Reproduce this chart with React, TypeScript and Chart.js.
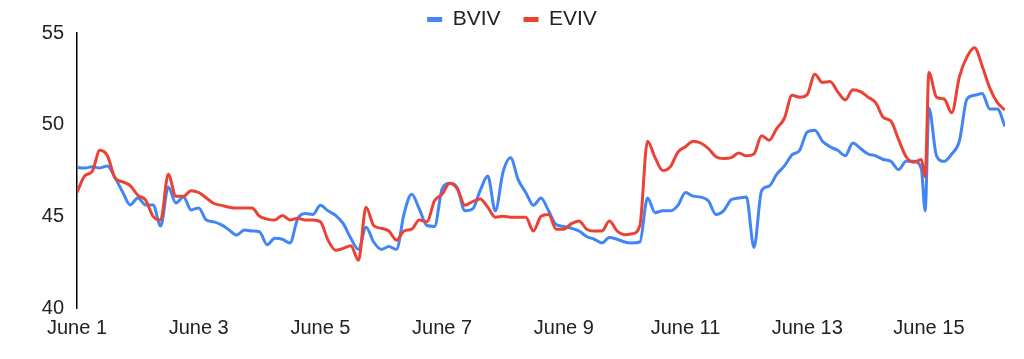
import { useEffect, useRef } from "react";
import { Chart, registerables } from "chart.js";

Chart.register(...registerables);

// hours since June 1, 00:00
const hours = [
  0, 3, 6, 9, 12, 15, 18, 21, 24, 27, 30, 33, 36, 39, 42, 45, 48, 51, 54, 57,
  60, 63, 66, 69, 72, 75, 78, 81, 84, 87, 90, 93, 96, 99, 102, 105, 108, 111, 114, 117,
  120, 123, 126, 129, 132, 135, 138, 141, 144, 147, 150, 153, 156, 159, 162, 165, 168, 171, 174, 177,
  180, 183, 186, 189, 192, 195, 198, 201, 204, 207, 210, 213, 216, 219, 222, 225, 228, 231, 234, 237,
  240, 243, 246, 249, 252, 255, 258, 261, 264, 267, 270, 273, 276, 279, 282, 285, 288, 291, 294, 297,
  300, 303, 306, 309, 312, 315, 318, 321, 324, 327, 330, 333, 334.5, 336, 339, 342, 345, 348, 351, 354,
  357, 360, 363, 366,
];

const bviv = [
  47.66, 47.64, 47.7, 47.64, 47.75, 47.1, 46.33, 45.62, 46.0, 45.62, 45.62, 44.47, 46.6, 45.73, 46.06, 45.35, 45.46, 44.8, 44.7, 44.53,
  44.26, 43.98, 44.26, 44.2, 44.15, 43.45, 43.8, 43.75, 43.55, 44.85, 45.15, 45.1, 45.6, 45.3, 45.05, 44.6, 43.8, 43.2, 44.4, 43.6,
  43.2, 43.35, 43.2, 45.15, 46.2, 45.4, 44.5, 44.45, 46.5, 46.8, 46.55, 45.3, 45.4, 46.4, 47.2, 45.3, 47.4, 48.2, 47.0, 46.3,
  45.6, 46.0, 45.3, 44.55, 44.45, 44.35, 44.2, 43.9, 43.75, 43.55, 43.85, 43.75, 43.6, 43.55, 43.6, 46.0, 45.2, 45.3, 45.3, 45.6,
  46.3, 46.1, 46.05, 45.85, 45.1, 45.3, 45.9, 46.0, 46.05, 43.3, 46.4, 46.65, 47.3, 47.75, 48.35, 48.6, 49.6, 49.7, 49.1, 48.8,
  48.6, 48.3, 49.0, 48.7, 48.4, 48.3, 48.1, 48.0, 47.55, 48.0, 48.0, 47.6, 45.3, 50.9, 48.3, 48.0, 48.4, 49.1, 51.4, 51.6,
  51.7, 50.85, 50.85, 49.9,
];

const eviv = [
  46.3, 47.2, 47.45, 48.6, 48.3, 47.1, 46.88, 46.68, 46.15, 45.9, 45.0, 44.8, 47.3, 46.1, 46.1, 46.4, 46.3, 46.0, 45.7, 45.6,
  45.5, 45.45, 45.45, 45.45, 45.0, 44.85, 44.8, 45.05, 44.8, 44.9, 44.8, 44.8, 44.7, 43.7, 43.15, 43.25, 43.4, 42.6, 45.5, 44.5,
  44.35, 44.2, 43.7, 44.2, 44.3, 44.8, 44.7, 45.85, 46.2, 46.8, 46.5, 45.6, 45.8, 45.95, 45.5, 44.95, 45.0, 44.95, 44.95, 44.95,
  44.2, 45.0, 45.1, 44.3, 44.3, 44.6, 44.75, 44.3, 44.2, 44.2, 44.75, 44.2, 44.0, 44.05, 44.5, 49.1, 48.2, 47.5, 47.7, 48.5,
  48.8, 49.1, 49.0, 48.7, 48.25, 48.15, 48.2, 48.45, 48.3, 48.4, 49.4, 49.15, 49.8, 50.35, 51.6, 51.5, 51.65, 52.75, 52.3, 52.35,
  51.8, 51.35, 51.9, 51.8, 51.5, 51.2, 50.4, 50.2, 49.2, 48.25, 47.95, 48.1, 47.15, 52.85, 51.5, 51.4, 50.65, 52.6, 53.7, 54.2,
  53.2, 52.0, 51.2, 50.8,
];

const tickLabels = ["June 1", "June 3", "June 5", "June 7", "June 9", "June 11", "June 13", "June 15"];
const seriesNames = ["BVIV", "EVIV"];
const seriesColors = ["#4285F4", "#EA4335"];

export default function App() {
  const ref = useRef<HTMLCanvasElement>(null);

  useEffect(() => {
    const family = "'Liberation Sans', Arial, sans-serif";
    const series = [bviv, eviv];
    const chart = new Chart(ref.current as HTMLCanvasElement, {
      type: "line",
      data: {
        datasets: series.map((vals, s) => ({
          label: seriesNames[s],
          data: hours.map((h, i) => ({ x: h, y: vals[i] })),
          borderColor: seriesColors[s],
          backgroundColor: seriesColors[s],
          borderWidth: 3,
          pointRadius: 0,
          cubicInterpolationMode: "monotone" as const,
          order: s === 0 ? 1 : 0,
        })),
      },
      options: {
        responsive: false,
        animation: false,
        layout: { padding: { top: -14, left: 19, right: 19, bottom: 0 } },
        plugins: {
          tooltip: { enabled: false },
          legend: {
            position: "top",
            align: "center",
            maxHeight: 47,
            labels: {
              boxWidth: 15,
              boxHeight: 5,
              padding: 23,
              color: "#222",
              font: { family, size: 21 },
              generateLabels: (c: any) =>
                (Chart.defaults.plugins.legend.labels.generateLabels as any)(c)
                  .map((l: any) => ({ ...l, lineWidth: 0 }))
                  .sort((a: any, b: any) => a.datasetIndex - b.datasetIndex),
            },
          },
        },
        scales: {
          x: {
            type: "linear",
            min: 0,
            max: 366,
            afterFit: (s: any) => {
              s.height = 51;
            },
            grid: { display: false, drawTicks: false },
            border: { display: false },
            ticks: {
              stepSize: 48,
              includeBounds: false,
              autoSkip: false,
              maxRotation: 0,
              padding: 8,
              color: "#222",
              font: { family, size: 20 },
              callback: (v: any) => tickLabels[Math.round(Number(v) / 48)] ?? "",
            },
          },
          y: {
            min: 40,
            max: 55,
            afterFit: (s: any) => {
              s.width = 58;
            },
            grid: { display: false, drawTicks: false },
            border: { display: true, color: "#000", width: 1.5 },
            ticks: {
              stepSize: 5,
              padding: 13,
              color: "#222",
              font: { family, size: 20 },
            },
          },
        },
      },
    });
    return () => chart.destroy();
  }, []);

  return (
    <div style={{ position: "fixed", left: 0, top: 0, width: 1024, height: 359, background: "#fff" }}>
      <canvas ref={ref} width={1024} height={359} style={{ display: "block" }} />
    </div>
  );
}
